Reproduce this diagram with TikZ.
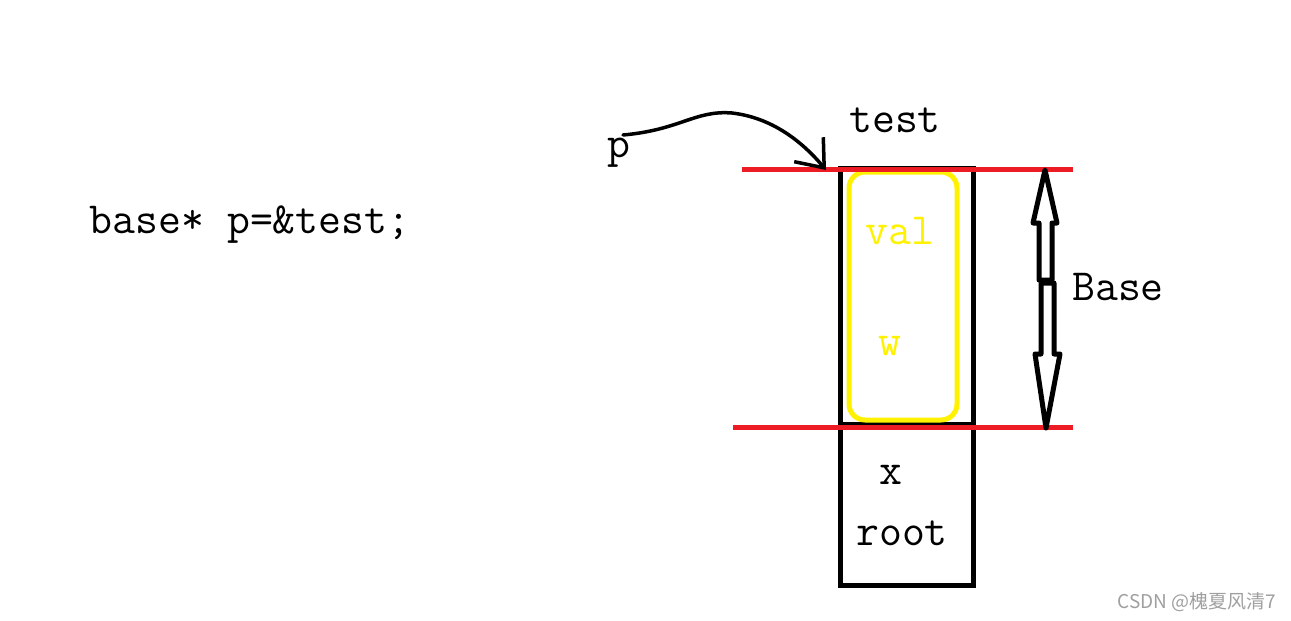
\documentclass[tikz,border=0pt]{standalone}
\usepackage{fontspec}
\usepackage{tikz}
\usetikzlibrary{arrows.meta}
\newfontfamily\cjk{Noto Sans CJK SC}
\definecolor{PaintRed}{HTML}{ED1C24}
\definecolor{PaintYellow}{HTML}{FFF200}

\begin{document}
\begin{tikzpicture}[x=1pt, y=-1pt,
  txt/.style={inner sep=0pt, font=\ttfamily\fontsize{44.5}{44.5}\selectfont},
  ytxt/.style={txt, text=PaintYellow},
  wall/.style={line width=5pt},
  limit/.style={PaintRed, line width=5pt},
  hollow/.style={line width=5pt, line join=round, fill=white}]
  \useasboundingbox (0,0) rectangle (1291,621);
  % object layout
  \draw[wall] (840,168) rectangle (973,585);
  \draw[wall] (840,424) -- (973,424);
  \draw[PaintYellow, line width=5pt, rounded corners=16pt] (849,172) rectangle (957,420);
  \draw[limit] (742,169) -- (1073,169);
  \draw[limit] (733,427) -- (1073,427);
  \coordinate (corner) at (826,170);
  % labels
  \node[txt] (code) at (250,225) {base* p=\&test;};
  \node[txt] (test) at (895,120) {test};
  \node[txt] (p) at (619,153) {p};
  \node[ytxt] (val) at (900,231) {val};
  \node[ytxt] (w) at (890,346) {w};
  \node[txt] (x) at (891,475) {x};
  \node[txt] (root) at (902,533) {root};
  \node[txt] (base) at (1118,287) {Base};
  % pointer
  \draw[line width=3.5pt, line cap=round, -{Straight Barb[length=24pt, width=38pt, line width=3.5pt]}]
    (623,135) .. controls (680,130) and (695,110) .. (732,113)
    .. controls (775,118) and (805,145) .. (corner);
  % size of Base
  \draw[hollow] (1045,170) -- (1057,223) -- (1052,223) -- (1052,280) -- (1039,280)
    -- (1039,223) -- (1033,223) -- cycle;
  \draw[hollow] (1041,283) -- (1054,283) -- (1054,354) -- (1060,354) -- (1046,428)
    -- (1035,354) -- (1041,354) -- cycle;
  \node[inner sep=0pt, text=gray!75, font=\cjk\fontsize{19}{19}\selectfont] (mark) at (1197,602) {CSDN @槐夏风清7};
\end{tikzpicture}
\end{document}
